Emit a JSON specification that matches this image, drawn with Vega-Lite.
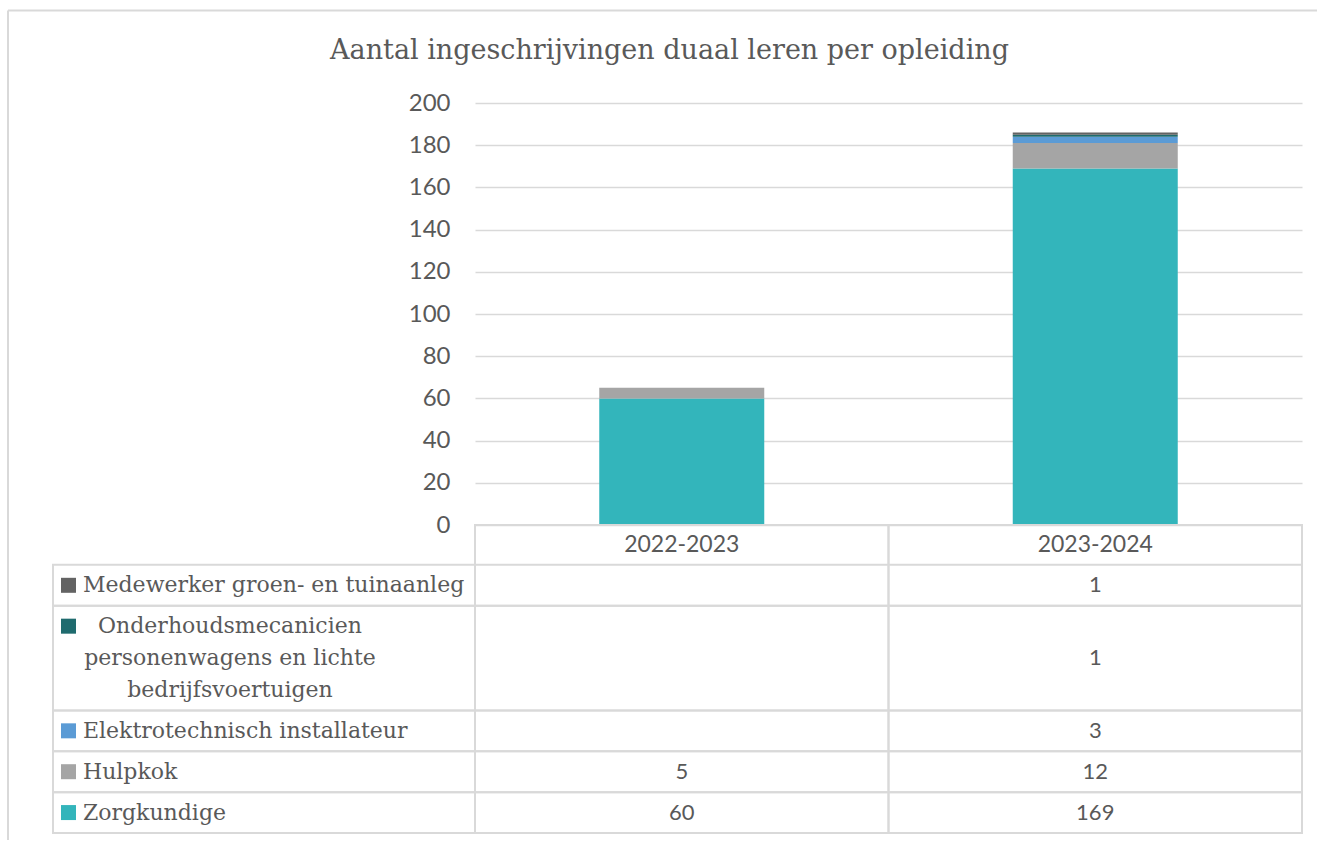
{
  "$schema": "https://vega.github.io/schema/vega-lite/v6.json",
  "autosize": {"type": "pad"},
  "padding": {"left": 6, "top": 9, "right": 1, "bottom": 1},
  "background": "white",
  "bounds": "flush",
  "spacing": 0,
  "config": {"view": {"stroke": null}},
  "datasets": {
    "tabel": [
      {"jaar": "2022-2023", "opleiding": "Zorgkundige", "aantal": 60},
      {"jaar": "2022-2023", "opleiding": "Hulpkok", "aantal": 5},
      {"jaar": "2022-2023", "opleiding": "Elektrotechnisch installateur", "aantal": null},
      {"jaar": "2022-2023", "opleiding": "Onderhoudsmecanicien personenwagens en lichte bedrijfsvoertuigen", "aantal": null},
      {"jaar": "2022-2023", "opleiding": "Medewerker groen- en tuinaanleg", "aantal": null},
      {"jaar": "2023-2024", "opleiding": "Zorgkundige", "aantal": 169},
      {"jaar": "2023-2024", "opleiding": "Hulpkok", "aantal": 12},
      {"jaar": "2023-2024", "opleiding": "Elektrotechnisch installateur", "aantal": 3},
      {"jaar": "2023-2024", "opleiding": "Onderhoudsmecanicien personenwagens en lichte bedrijfsvoertuigen", "aantal": 1},
      {"jaar": "2023-2024", "opleiding": "Medewerker groen- en tuinaanleg", "aantal": 1}
    ],
    "opleidingen": [
      {"opleiding": "Zorgkundige", "regels": ["Zorgkundige"], "volgorde": 1},
      {"opleiding": "Hulpkok", "regels": ["Hulpkok"], "volgorde": 2},
      {"opleiding": "Elektrotechnisch installateur", "regels": ["Elektrotechnisch installateur"], "volgorde": 3},
      {"opleiding": "Onderhoudsmecanicien personenwagens en lichte bedrijfsvoertuigen", "regels": ["Onderhoudsmecanicien", "personenwagens en lichte", "bedrijfsvoertuigen"], "volgorde": 4},
      {"opleiding": "Medewerker groen- en tuinaanleg", "regels": ["Medewerker groen- en tuinaanleg"], "volgorde": 5}
    ]
  },
  "vconcat": [
    {
      "width": 827,
      "height": 422,
      "title": {
        "text": "Aantal ingeschrijvingen duaal leren per opleiding",
        "font": "DejaVu Serif",
        "fontSize": 27,
        "fontWeight": "normal",
        "color": "#595959",
        "anchor": "middle",
        "frame": "group",
        "dx": -219,
        "baseline": "alphabetic",
        "offset": 5
      },
      "data": {"name": "tabel"},
      "transform": [
        {"filter": "isValid(datum.aantal)"},
        {"lookup": "opleiding", "from": {"data": {"name": "opleidingen"}, "key": "opleiding", "fields": ["volgorde"]}}
      ],
      "mark": {"type": "bar", "size": 165},
      "encoding": {
        "x": {"field": "jaar", "type": "nominal", "scale": {"paddingInner": 0, "paddingOuter": 0}, "axis": null},
        "y": {
          "field": "aantal", "type": "quantitative", "stack": "zero",
          "scale": {"domain": [0, 200], "nice": false},
          "axis": {
            "values": [0, 20, 40, 60, 80, 100, 120, 140, 160, 180, 200],
            "grid": true, "gridColor": "#d9d9d9", "gridWidth": 1.5,
            "domain": false, "ticks": false,
            "labelFont": "Lato", "labelFontSize": 24, "labelColor": "#595959",
            "labelPadding": 25, "title": null
          }
        },
        "color": {
          "field": "opleiding", "type": "nominal",
          "scale": {
            "domain": ["Zorgkundige", "Hulpkok", "Elektrotechnisch installateur", "Onderhoudsmecanicien personenwagens en lichte bedrijfsvoertuigen", "Medewerker groen- en tuinaanleg"],
            "range": ["#33b5bb", "#a5a5a5", "#5b9bd5", "#1f6b6e", "#636363"]
          },
          "legend": null
        },
        "order": {"field": "volgorde", "type": "quantitative", "sort": "ascending"}
      }
    },
    {
      "width": 827,
      "height": 308,
      "data": {"name": "tabel"},
      "transform": [
        {"lookup": "opleiding", "from": {"data": {"name": "opleidingen"}, "key": "opleiding", "fields": ["regels", "volgorde"]}},
        {"calculate": "9 + 32 * length(datum.regels)", "as": "hoogte"},
        {"window": [{"op": "sum", "field": "hoogte", "as": "som"}], "groupby": ["jaar"], "sort": [{"field": "volgorde", "order": "descending"}], "frame": [null, 0]},
        {"window": [{"op": "dense_rank", "as": "kolom"}], "sort": [{"field": "jaar", "order": "ascending"}]},
        {"calculate": "datum.som + 40", "as": "bodem"},
        {"calculate": "datum.bodem - datum.hoogte", "as": "boven"},
        {"calculate": "(datum.boven + datum.bodem) / 2", "as": "midden"},
        {"calculate": "datum.boven + 20.5", "as": "eerste"},
        {"calculate": "datum.kolom - 1", "as": "links"},
        {"calculate": "datum.kolom - 0.5", "as": "xmidden"}
      ],
      "layer": [
        {
          "transform": [{"filter": "datum.kolom == 1"}],
          "mark": {"type": "rect", "fill": null, "stroke": "#d9d9d9", "strokeWidth": 2},
          "encoding": {
            "x": {"datum": -1.0206, "type": "quantitative", "scale": {"domain": [0, 2], "nice": false, "zero": false}, "axis": null},
            "x2": {"datum": 2},
            "y": {"field": "boven", "type": "quantitative", "scale": {"domain": [0, 309], "nice": false, "zero": false, "reverse": true}, "axis": null},
            "y2": {"field": "bodem"}
          }
        },
        {
          "transform": [{"filter": "datum.volgorde == 5"}],
          "mark": {"type": "rect", "fill": null, "stroke": "#d9d9d9", "strokeWidth": 2},
          "encoding": {
            "x": {"field": "links", "type": "quantitative"},
            "x2": {"field": "kolom"},
            "y": {"datum": 0, "type": "quantitative"},
            "y2": {"datum": 309}
          }
        },
        {
          "transform": [{"filter": "datum.volgorde == 5"}],
          "mark": {"type": "text", "font": "Lato", "fontSize": 23, "color": "#595959", "baseline": "middle", "align": "center"},
          "encoding": {
            "x": {"field": "xmidden", "type": "quantitative"},
            "y": {"datum": 20, "type": "quantitative"},
            "text": {"field": "jaar"}
          }
        },
        {
          "transform": [{"filter": "isValid(datum.aantal)"}],
          "mark": {"type": "text", "font": "Lato", "fontSize": 22, "color": "#595959", "baseline": "middle", "align": "center"},
          "encoding": {
            "x": {"field": "xmidden", "type": "quantitative"},
            "y": {"field": "midden", "type": "quantitative"},
            "text": {"field": "aantal", "type": "quantitative"}
          }
        },
        {
          "transform": [{"filter": "datum.kolom == 1"}],
          "mark": {"type": "square", "filled": true, "opacity": 1, "size": 225, "xOffset": 15.5},
          "encoding": {
            "x": {"datum": -1.0206, "type": "quantitative"},
            "y": {"field": "eerste", "type": "quantitative"},
            "color": {
              "field": "opleiding", "type": "nominal",
              "scale": {
                "domain": ["Zorgkundige", "Hulpkok", "Elektrotechnisch installateur", "Onderhoudsmecanicien personenwagens en lichte bedrijfsvoertuigen", "Medewerker groen- en tuinaanleg"],
                "range": ["#33b5bb", "#a5a5a5", "#5b9bd5", "#1f6b6e", "#636363"]
              },
              "legend": null
            }
          }
        },
        {
          "transform": [{"filter": "datum.kolom == 1 && length(datum.regels) == 1"}],
          "mark": {"type": "text", "font": "DejaVu Serif", "fontSize": 22, "color": "#595959", "baseline": "middle", "align": "left", "xOffset": 30},
          "encoding": {
            "x": {"datum": -1.0206, "type": "quantitative"},
            "y": {"field": "midden", "type": "quantitative"},
            "text": {"field": "opleiding"}
          }
        },
        {
          "transform": [{"filter": "datum.kolom == 1 && length(datum.regels) > 1"}],
          "mark": {"type": "text", "font": "DejaVu Serif", "fontSize": 22, "color": "#595959", "baseline": "middle", "align": "center", "xOffset": 177, "lineHeight": 32},
          "encoding": {
            "x": {"datum": -1.0206, "type": "quantitative"},
            "y": {"field": "eerste", "type": "quantitative"},
            "text": {"field": "regels"}
          }
        },
        {
          "data": {"values": [{}]},
          "mark": {"type": "rule", "stroke": "#d9d9d9", "strokeWidth": 2},
          "encoding": {
            "x": {"datum": -1.1294, "type": "quantitative"},
            "y": {"datum": -516.2, "type": "quantitative"},
            "y2": {"datum": 316}
          }
        },
        {
          "data": {"values": [{}]},
          "mark": {"type": "rule", "stroke": "#d9d9d9", "strokeWidth": 2},
          "encoding": {
            "x": {"datum": -1.1294, "type": "quantitative"},
            "x2": {"datum": 2.0363},
            "y": {"datum": -516.2, "type": "quantitative"}
          }
        }
      ]
    }
  ]
}
